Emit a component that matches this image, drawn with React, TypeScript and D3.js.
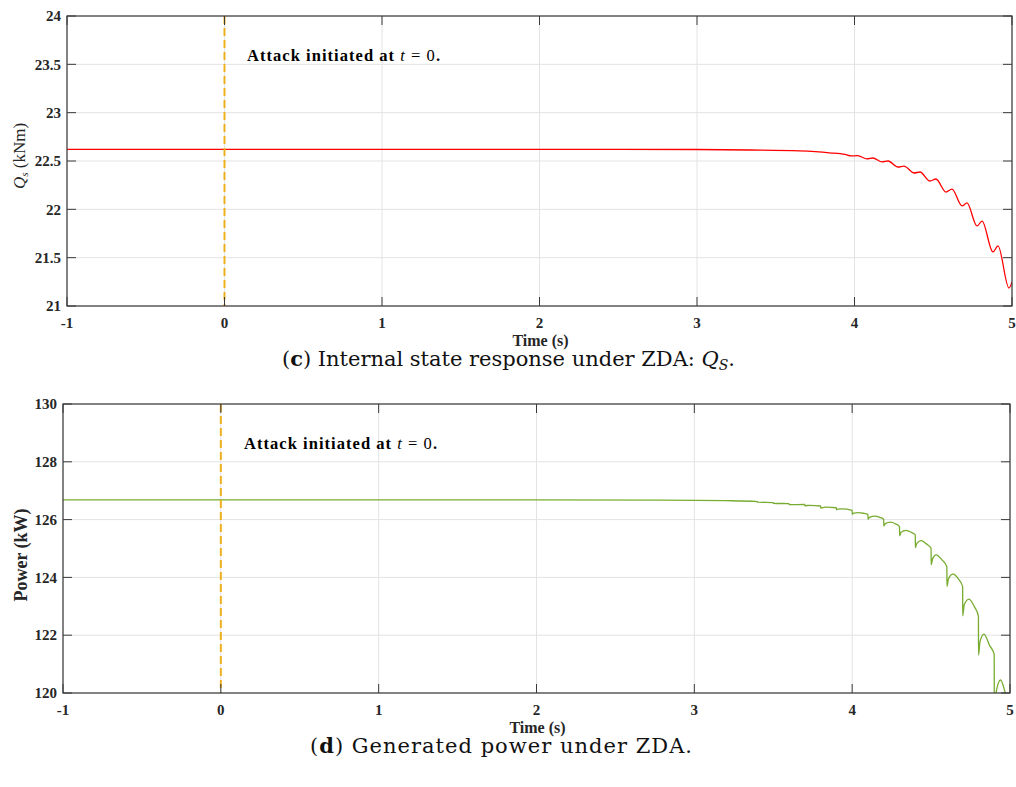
import React from "react";
import * as d3 from "d3";

// ---------- DATA ----------
const xTicks = [-1, 0, 1, 2, 3, 4, 5];
const qsTicks = [21, 21.5, 22, 22.5, 23, 23.5, 24];
const powerTicks = [120, 122, 124, 126, 128, 130];

const qsTime = [-1, 0, 1, 2, 2.5, 3, 3.34, 3.65, 3.84, 3.94, 3.98, 4.02, 4.079, 4.117, 4.175, 4.213, 4.276, 4.314, 4.379, 4.416, 4.479, 4.517, 4.581, 4.619, 4.683, 4.714, 4.778, 4.81, 4.879, 4.911, 4.981, 5.0];
const qsValue = [22.62, 22.62, 22.62, 22.62, 22.62, 22.619, 22.614, 22.604, 22.585, 22.568, 22.552, 22.556, 22.521, 22.531, 22.49, 22.5, 22.438, 22.448, 22.376, 22.386, 22.293, 22.314, 22.179, 22.21, 22.035, 22.066, 21.828, 21.879, 21.559, 21.621, 21.186, 21.25];

const powerTime = [
  -1, 2, 2.8, 3.2, 3.4, 3.4005, 3.5, 3.5005, 3.6, 3.6005, 3.7, 3.7005, 3.73, 3.8, 3.8005, 3.83, 3.9, 3.9005, 3.91, 3.935,
  4.0, 4.0005, 4.01, 4.04, 4.07, 4.1,
  4.1005, 4.11, 4.145, 4.175, 4.2,
  4.2005, 4.21, 4.245, 4.275, 4.3,
  4.3005, 4.31, 4.342, 4.375, 4.4,
  4.4005, 4.41, 4.437, 4.47, 4.5,
  4.5005, 4.51, 4.532, 4.57, 4.6,
  4.6005, 4.61, 4.639, 4.675, 4.7,
  4.7005, 4.71, 4.74, 4.775, 4.8,
  4.8005, 4.81, 4.835, 4.87, 4.9,
  4.9005, 4.91, 4.94, 4.97, 5.0,
];
const powerValue = [
  126.68, 126.68, 126.675, 126.655, 126.625, 126.605, 126.59, 126.565, 126.55, 126.515, 126.525, 126.48, 126.495, 126.47, 126.40, 126.43, 126.41, 126.34, 126.36, 126.37,
  126.32, 126.19, 126.22, 126.24, 126.22, 126.18,
  126.01, 126.08, 126.12, 126.08, 126.01,
  125.78, 125.86, 125.91, 125.85, 125.76,
  125.44, 125.56, 125.63, 125.56, 125.47,
  125.03, 125.18, 125.27, 125.16, 125.01,
  124.44, 124.65, 124.78, 124.6, 124.37,
  123.69, 123.95, 124.11, 123.93, 123.68,
  122.67, 123.05, 123.25, 122.98, 122.66,
  121.31, 121.78, 122.04, 121.65, 121.34,
  119.3, 119.95, 120.45, 120.0, 119.3,
];

const attackTime = 0;

// ---------- STYLE ----------
const SERIF = "'Liberation Serif', 'Times New Roman', serif";
const CAPTION = "'DejaVu Serif', serif";
const AXIS = "#3a3a3a";
const GRID = "#e3e3e3";
const TICKLEN = 9;

type Box = { left: number; right: number; top: number; bottom: number };

function Panel(props: {
  id: string;
  box: Box;
  yDomain: [number, number];
  yTicks: number[];
  time: number[];
  values: number[];
  color: string;
  ylabel: React.ReactNode;
  annotX: number;
  annotY: number;
}) {
  const { id, box, yDomain, yTicks, time, values, color } = props;
  const x = d3.scaleLinear().domain([-1, 5]).range([box.left, box.right]);
  const y = d3.scaleLinear().domain(yDomain).range([box.bottom, box.top]);
  const pts = time.map((t, i) => [t, values[i]] as [number, number]);
  const line = d3
    .line<[number, number]>()
    .x((d) => x(d[0]))
    .y((d) => y(d[1]))
    .curve(d3.curveMonotoneX)(pts) as string;
  const fmt = (v: number) => String(v);
  return (
    <g>
      <defs>
        <clipPath id={id}>
          <rect x={box.left} y={box.top} width={box.right - box.left} height={box.bottom - box.top} />
        </clipPath>
      </defs>
      {xTicks.map((t) => (
        <line key={"gx" + t} x1={x(t)} x2={x(t)} y1={box.top} y2={box.bottom} stroke={GRID} strokeWidth={1} />
      ))}
      {yTicks.map((t) => (
        <line key={"gy" + t} x1={box.left} x2={box.right} y1={y(t)} y2={y(t)} stroke={GRID} strokeWidth={1} />
      ))}
      <path d={line} fill="none" stroke={color} strokeWidth={1.3} clipPath={`url(#${id})`} />
      <line
        x1={x(attackTime)}
        x2={x(attackTime)}
        y1={box.top}
        y2={box.bottom}
        stroke="#EDB120"
        strokeWidth={2}
        strokeDasharray="8,4"
      />
      <rect
        x={box.left}
        y={box.top}
        width={box.right - box.left}
        height={box.bottom - box.top}
        fill="none"
        stroke={AXIS}
        strokeWidth={1.2}
      />
      {xTicks.map((t) => (
        <g key={"tx" + t}>
          <line x1={x(t)} x2={x(t)} y1={box.bottom} y2={box.bottom - TICKLEN} stroke={AXIS} />
          <line x1={x(t)} x2={x(t)} y1={box.top} y2={box.top + TICKLEN} stroke={AXIS} />
          <text
            x={x(t)}
            y={box.bottom + 22}
            textAnchor="middle"
            fontFamily={SERIF}
            fontWeight="bold"
            fontSize={15}
            fill="#262626"
          >
            {fmt(t)}
          </text>
        </g>
      ))}
      {yTicks.map((t) => (
        <g key={"ty" + t}>
          <line x1={box.left} x2={box.left + TICKLEN} y1={y(t)} y2={y(t)} stroke={AXIS} />
          <line x1={box.right} x2={box.right - TICKLEN} y1={y(t)} y2={y(t)} stroke={AXIS} />
          <text
            x={box.left - 6}
            y={y(t)}
            dy="0.35em"
            textAnchor="end"
            fontFamily={SERIF}
            fontWeight="bold"
            fontSize={15}
            fill="#262626"
          >
            {fmt(t)}
          </text>
        </g>
      ))}
      <text
        x={(box.left + box.right) / 2 + 1}
        y={box.bottom + 40}
        textAnchor="middle"
        fontFamily={SERIF}
        fontWeight="bold"
        fontSize={16}
        fill="#262626"
      >
        Time (s)
      </text>
      {props.ylabel}
      <text
        x={props.annotX}
        y={props.annotY}
        fontFamily={SERIF}
        fontSize={16.5}
        fill="#000"
        textLength={193}
        lengthAdjust="spacing"
      >
        <tspan fontWeight="bold">Attack initiated at </tspan>
        <tspan fontStyle="italic">t</tspan>
        <tspan> = 0</tspan>
        <tspan fontWeight="bold">.</tspan>
      </text>
    </g>
  );
}

export default function App() {
  const topBox: Box = { left: 67, right: 1012, top: 16, bottom: 306 };
  const botBox: Box = { left: 63, right: 1010, top: 404, bottom: 693 };
  return (
    <svg width={1016} height={787} style={{ position: "absolute", left: 0, top: 0, background: "#fff" }}>
      <rect width={1016} height={787} fill="#fff" />
      <Panel
        id="clipTop"
        box={topBox}
        yDomain={[21, 24]}
        yTicks={qsTicks}
        time={qsTime}
        values={qsValue}
        color="#ff0000"
        annotX={247}
        annotY={61}
        ylabel={
          <text
            transform="translate(25,156) rotate(-90)"
            textAnchor="middle"
            fontFamily={SERIF}
            fontSize={17}
            fill="#262626"
          >
            <tspan fontStyle="italic">Q</tspan>
            <tspan fontStyle="italic" fontSize={11} dy={3}>s</tspan>
            <tspan dy={-3}> (kNm)</tspan>
          </text>
        }
      />
      <Panel
        id="clipBot"
        box={botBox}
        yDomain={[120, 130]}
        yTicks={powerTicks}
        time={powerTime}
        values={powerValue}
        color="#77AC30"
        annotX={244}
        annotY={449}
        ylabel={
          <text
            transform="translate(27,555) rotate(-90)"
            textAnchor="middle"
            fontFamily={SERIF}
            fontWeight="bold"
            fontSize={18}
            fill="#262626"
          >
            Power (kW)
          </text>
        }
      />
      <text
        x={282}
        y={366}
        fontFamily={CAPTION}
        fontSize={21}
        fill="#111"
        textLength={453}
        lengthAdjust="spacing"
      >
        (<tspan fontWeight="bold">c</tspan>) Internal state response under ZDA: <tspan fontStyle="italic">Q</tspan>
        <tspan fontStyle="italic" fontSize={14} dy={4}>S</tspan>
        <tspan dy={-4}>.</tspan>
      </text>
      <text
        x={310}
        y={753}
        fontFamily={CAPTION}
        fontSize={21}
        fill="#111"
        textLength={382}
        lengthAdjust="spacing"
      >
        (<tspan fontWeight="bold">d</tspan>)  Generated power under ZDA.
      </text>
    </svg>
  );
}
